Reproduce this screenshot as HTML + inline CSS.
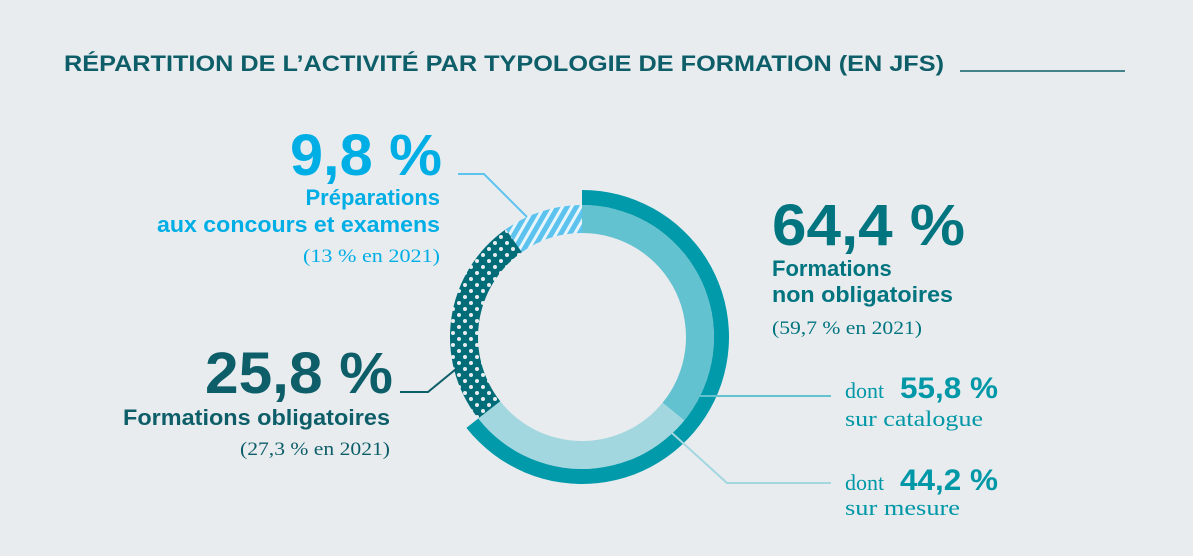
<!DOCTYPE html>
<html><head><meta charset="utf-8"><style>
html,body{margin:0;padding:0;background:#e8ecef;}
svg{display:block;font-family:"Liberation Sans",sans-serif;}
.b{font-weight:bold;}
.s{font-family:"Liberation Serif",serif;}
</style></head><body>
<svg width="1193" height="556" viewBox="0 0 1193 556">
<defs>
<pattern id="hatch" width="8" height="8" patternUnits="userSpaceOnUse" patternTransform="rotate(30)">
<rect width="8" height="8" fill="#e8f4fb"/><rect width="5" height="8" fill="#5cc3ef"/>
</pattern>
<pattern id="dots" width="12" height="12" patternUnits="userSpaceOnUse">
<rect width="12" height="12" fill="#006c78"/><circle cx="3" cy="3" r="2" fill="#e8ecef"/><circle cx="9" cy="9" r="2" fill="#e8ecef"/>
</pattern>
</defs>
<text x="64" y="71" class="b" font-size="22" fill="#0d5e68" textLength="880" lengthAdjust="spacingAndGlyphs">RÉPARTITION DE L’ACTIVITÉ PAR TYPOLOGIE DE FORMATION (EN JFS)</text>
<line x1="960" y1="71" x2="1125" y2="71" stroke="#0d5e68" stroke-width="1.5"/>
<g id="donut"></g>
<!-- leader lines -->
<polyline points="458,174 484,174 527,217" fill="none" stroke="#5cc3ef" stroke-width="2"/>
<polyline points="400,392 428,392 456,369" fill="none" stroke="#0d5e68" stroke-width="2"/>
<line x1="700" y1="396" x2="831" y2="396" stroke="#63c2d0" stroke-width="2"/>
<polyline points="672,433 727,483 831,483" fill="none" stroke="#a3d7e0" stroke-width="2"/>
<!-- left top -->
<text x="442" y="175" text-anchor="end" class="b" font-size="58" fill="#00aee6" textLength="152" lengthAdjust="spacingAndGlyphs">9,8 %</text>
<text x="440" y="205" text-anchor="end" class="b" font-size="22" fill="#00aee6">Préparations</text>
<text x="440" y="232" text-anchor="end" class="b" font-size="22" fill="#00aee6" textLength="283" lengthAdjust="spacingAndGlyphs">aux concours et examens</text>
<text x="440" y="262" text-anchor="end" class="s" font-size="19" fill="#00aee6" textLength="137" lengthAdjust="spacingAndGlyphs">(13 % en 2021)</text>
<!-- right top -->
<text x="772" y="245" class="b" font-size="58" fill="#00747f" textLength="193" lengthAdjust="spacingAndGlyphs">64,4 %</text>
<text x="772" y="276" class="b" font-size="22" fill="#00747f">Formations</text>
<text x="772" y="302" class="b" font-size="22" fill="#00747f" textLength="181" lengthAdjust="spacingAndGlyphs">non obligatoires</text>
<text x="772" y="334" class="s" font-size="19" fill="#00747f" textLength="150" lengthAdjust="spacingAndGlyphs">(59,7 % en 2021)</text>
<!-- left bottom -->
<text x="393" y="393" text-anchor="end" class="b" font-size="58" fill="#0d5e68" textLength="188" lengthAdjust="spacingAndGlyphs">25,8 %</text>
<text x="390" y="425" text-anchor="end" class="b" font-size="22" fill="#0d5e68" textLength="267" lengthAdjust="spacingAndGlyphs">Formations obligatoires</text>
<text x="390" y="455" text-anchor="end" class="s" font-size="19" fill="#0d5e68" textLength="150" lengthAdjust="spacingAndGlyphs">(27,3 % en 2021)</text>
<!-- right bottom -->
<text x="845" y="398" class="s" font-size="22" fill="#0097a7">dont</text>
<text x="900" y="398" class="b" font-size="30" fill="#0097a7" textLength="98" lengthAdjust="spacingAndGlyphs">55,8 %</text>
<text x="845" y="426" class="s" font-size="22" fill="#0097a7" textLength="138" lengthAdjust="spacingAndGlyphs">sur catalogue</text>
<text x="845" y="490" class="s" font-size="22" fill="#0097a7">dont</text>
<text x="900" y="490" class="b" font-size="30" fill="#0097a7" textLength="98" lengthAdjust="spacingAndGlyphs">44,2 %</text>
<text x="845" y="515" class="s" font-size="22" fill="#0097a7" textLength="115" lengthAdjust="spacingAndGlyphs">sur mesure</text>
</svg>
<script>
const categories = ['catalogue', 'mesure', 'obligatoires', 'preparations'];
const values = [35.9, 28.5, 25.8, 9.8];
const fills = ['#63c2d0', '#a3d7e0', 'url(#dots)', 'url(#hatch)'];
const outerGroup = [0, 1]; // indices forming "non obligatoires" (outer band)
const cx = 582, cy = 337, rIn = 104, rMid = 132, rOut = 147;
const total = values.reduce((a, b) => a + b, 0);
function ang(v) { return v / total * 2 * Math.PI; }
function arc(a0, a1, r0, r1) {
  const p = (a, r) => [cx + r * Math.sin(a), cy - r * Math.cos(a)];
  const large = (a1 - a0) > Math.PI ? 1 : 0;
  const [x0, y0] = p(a0, r1), [x1, y1] = p(a1, r1), [x2, y2] = p(a1, r0), [x3, y3] = p(a0, r0);
  return `M${x0},${y0}A${r1},${r1} 0 ${large} 1 ${x1},${y1}L${x2},${y2}A${r0},${r0} 0 ${large} 0 ${x3},${y3}Z`;
}
const g = document.getElementById('donut');
const NS = 'http://www.w3.org/2000/svg';
let acc = 0, outerStart = null, outerEnd = null;
values.forEach((v, i) => {
  const a0 = ang(acc), a1 = ang(acc + v);
  const path = document.createElementNS(NS, 'path');
  path.setAttribute('d', arc(a0, a1, rIn, rMid));
  path.setAttribute('fill', fills[i]);
  
  
  g.appendChild(path);
  if (outerGroup.includes(i)) {
    if (outerStart === null) outerStart = a0;
    outerEnd = a1;
  }
  acc += v;
});
const outer = document.createElementNS(NS, 'path');
outer.setAttribute('d', arc(outerStart, outerEnd, rMid, rOut));
outer.setAttribute('fill', '#009aaa');


g.appendChild(outer);
</script>
</body></html>
